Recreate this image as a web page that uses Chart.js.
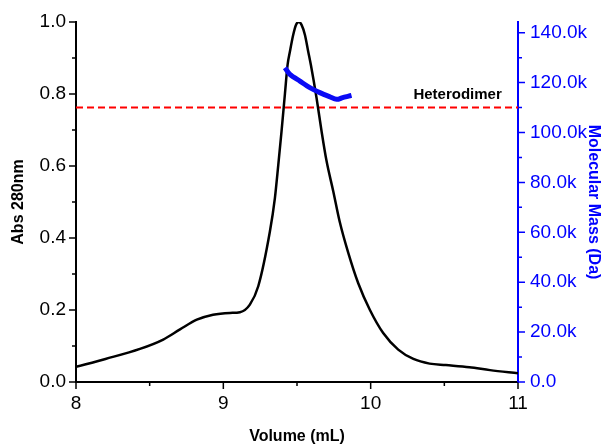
<!DOCTYPE html>
<html>
<head>
<meta charset="utf-8">
<script src="https://cdn.jsdelivr.net/npm/chart.js@4.4.0/dist/chart.umd.min.js"></script>
<style>body{margin:0;background:#fff}</style>
</head>
<body>
<canvas id="chart" width="603" height="446"></canvas>
<script>
// absorbance trace (Abs 280nm vs elution volume)
const volume = [8.0, 8.2, 8.434, 8.592, 8.706, 8.82, 8.93, 9.045, 9.113, 9.18, 9.237, 9.316, 9.35, 9.373, 9.395, 9.418, 9.436, 9.452, 9.474, 9.493, 9.513, 9.531, 9.554, 9.576, 9.594, 9.633, 9.667, 9.70, 9.746, 9.79, 9.847, 9.915, 9.995, 10.085, 10.187, 10.29, 10.4, 10.51, 10.67, 10.81, 11.0];
const absorbance = [0.042, 0.064, 0.092, 0.118, 0.146, 0.173, 0.187, 0.192, 0.194, 0.215, 0.266, 0.418, 0.511, 0.603, 0.696, 0.80, 0.881, 0.918, 0.964, 0.992, 1.0, 0.992, 0.964, 0.918, 0.881, 0.788, 0.696, 0.615, 0.53, 0.445, 0.36, 0.275, 0.20, 0.136, 0.09, 0.064, 0.051, 0.047, 0.041, 0.033, 0.024];

// molecular mass across the peak
const massVolume = [9.418, 9.452, 9.52, 9.587, 9.655, 9.72, 9.77, 9.81, 9.85, 9.87];
const molMass = [126000, 123300, 120600, 118000, 116000, 114400, 113300, 114000, 114600, 114900];

const massTicks = [0, 20000, 40000, 60000, 80000, 100000, 120000, 140000];
const heterodimerMass = 110000;
const heterodimerLabel = 'Heterodimer';

const toXY = (xs, ys) => xs.map((v, i) => ({x: v, y: ys[i]}));

const tickFont = {family: 'Arial, "Liberation Sans", sans-serif', size: 19};
const titleFont = {family: 'Arial, "Liberation Sans", sans-serif', size: 16, weight: 'bold'};

// major + minor tick marks, drawn off the scales
const tickMarks = {
  id: 'tickMarks',
  afterDraw(chart) {
    const {ctx, scales: {x, y, y2}} = chart;
    ctx.save();
    ctx.lineWidth = 1.5;
    ctx.strokeStyle = '#000';
    ctx.beginPath();
    for (let i = 0; i <= 6; i++) {
      const px = x.getPixelForValue(8 + i * 0.5);
      ctx.moveTo(px, x.top);
      ctx.lineTo(px, x.top + (i % 2 ? 4 : 7));
    }
    for (let i = 0; i <= 10; i++) {
      const py = y.getPixelForValue(i / 10);
      ctx.moveTo(y.right, py);
      ctx.lineTo(y.right - (i % 2 ? 4 : 7), py);
    }
    ctx.stroke();
    ctx.strokeStyle = '#0000ff';
    ctx.beginPath();
    for (let i = 0; i <= 14; i++) {
      const py = y2.getPixelForValue(i * 10000);
      ctx.moveTo(y2.left, py);
      ctx.lineTo(y2.left + (i % 2 ? 4 : 7), py);
    }
    ctx.stroke();

    // label over the dashed line
    ctx.fillStyle = '#000';
    ctx.font = 'bold 15px Arial, "Liberation Sans", sans-serif';
    ctx.textAlign = 'right';
    ctx.textBaseline = 'bottom';
    ctx.fillText(heterodimerLabel, x.getPixelForValue(10.89), y2.getPixelForValue(heterodimerMass) - 5);
    ctx.restore();
  }
};

new Chart(document.getElementById('chart'), {
  type: 'line',
  data: {
    datasets: [
      {
        data: toXY(massVolume, molMass),
        yAxisID: 'y2',
        borderColor: '#0a0af5',
        borderWidth: 5,
        pointRadius: 0,
        tension: 0.3,
        order: 0
      },
      {
        data: toXY(volume, absorbance),
        yAxisID: 'y',
        borderColor: '#000',
        borderWidth: 2.5,
        pointRadius: 0,
        cubicInterpolationMode: 'monotone',
        order: 1
      },
      {
        data: [{x: 8, y: heterodimerMass}, {x: 11, y: heterodimerMass}],
        yAxisID: 'y2',
        borderColor: '#ff0000',
        borderWidth: 2,
        borderDash: [7, 4],
        pointRadius: 0,
        order: 2
      }
    ]
  },
  options: {
    responsive: false,
    animation: false,
    layout: {padding: {top: 22, left: 0, right: 0, bottom: 0}},
    plugins: {legend: {display: false}, tooltip: {enabled: false}},
    scales: {
      x: {
        type: 'linear',
        min: 8, max: 11,
        ticks: {stepSize: 1, color: '#000', font: tickFont, padding: 3, maxRotation: 0},
        grid: {drawOnChartArea: false, color: 'rgba(0,0,0,0)', tickLength: 7},
        border: {color: '#000', width: 2},
        title: {display: true, text: 'Volume (mL)', color: '#000', font: titleFont, padding: {top: 0, bottom: 0}},
        afterFit(s) { s.height = 64; }
      },
      y: {
        position: 'left',
        min: 0, max: 1,
        ticks: {stepSize: 0.2, color: '#000', font: tickFont, padding: 3, callback: v => v.toFixed(1)},
        grid: {drawOnChartArea: false, color: 'rgba(0,0,0,0)', tickLength: 7},
        border: {color: '#000', width: 2},
        title: {display: true, text: 'Abs 280nm', color: '#000', font: titleFont, padding: {top: 9, bottom: 0}},
        afterFit(s) { s.width = 76; }
      },
      y2: {
        position: 'right',
        min: 0, max: 144300,
        afterBuildTicks(s) { s.ticks = massTicks.map(v => ({value: v})); },
        ticks: {
          color: '#0000ff', font: tickFont, padding: 5,
          callback: v => v === 0 ? '0.0' : (v / 1000).toFixed(1) + 'k'
        },
        grid: {drawOnChartArea: false, color: 'rgba(0,0,0,0)', tickLength: 7},
        border: {color: '#0000ff', width: 2},
        title: {display: true, text: 'Molecular Mass (Da)', color: '#0000ff', font: titleFont, padding: {top: 0, bottom: 0}},
        afterFit(s) { s.width = 85; }
      }
    }
  },
  plugins: [tickMarks]
});
</script>
</body>
</html>
